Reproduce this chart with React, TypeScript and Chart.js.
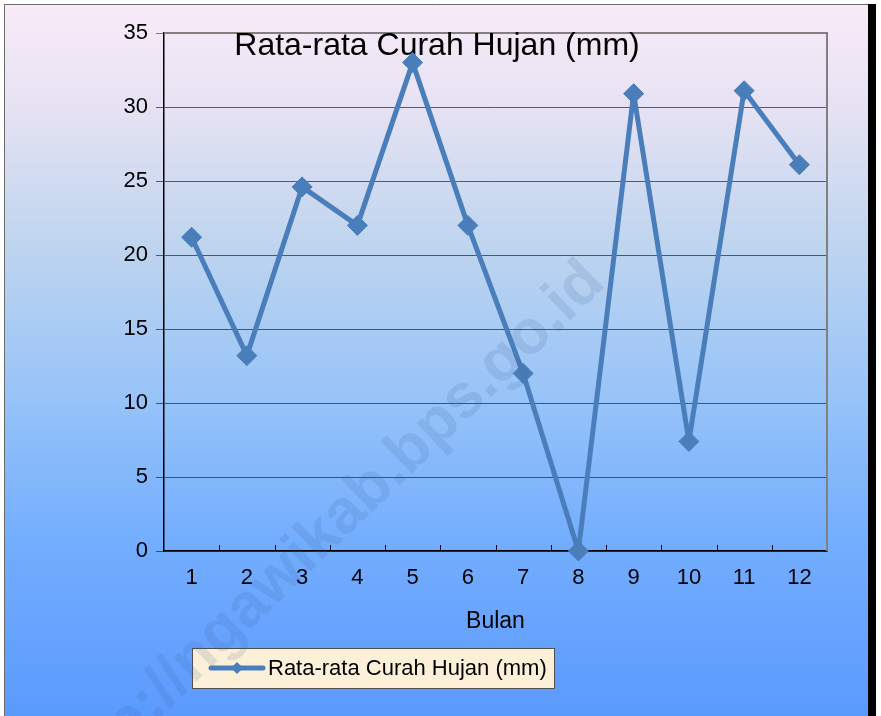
import React, { useEffect, useRef } from "react";
import { Chart, registerables } from "chart.js";

Chart.register(...registerables);

const months: string[] = ["1", "2", "3", "4", "5", "6", "7", "8", "9", "10", "11", "12"];
const rainfall: number[] = [21.2, 13.2, 24.6, 22.0, 33.0, 22.0, 12.0, 0, 30.9, 7.4, 31.1, 26.1];
const seriesLabel = "Rata-rata Curah Hujan (mm)";
const chartTitle = "Rata-rata Curah Hujan (mm)";
const xTitle = "Bulan";
const watermark = "http://ngawikab.bps.go.id";

const FONT = "'Liberation Sans', Arial, sans-serif";
const LINE_COLOR = "#4A7EBB";

const decorPlugin = {
  id: "decor",
  beforeDraw(chart: any) {
    const { ctx, width, height } = chart;
    ctx.save();
    ctx.fillStyle = "#ffffff";
    ctx.fillRect(0, 0, width, height);
    const g = ctx.createLinearGradient(0, 0, 0, height);
    g.addColorStop(0, "#FAEBF8");
    g.addColorStop(0.15, "#E6E2F3");
    g.addColorStop(0.35, "#BDD4EF");
    g.addColorStop(0.55, "#98C4F8");
    g.addColorStop(0.75, "#74AEFE");
    g.addColorStop(1, "#5B9AFE");
    ctx.fillStyle = g;
    ctx.fillRect(4, 4, 864, height - 4);
    // frame
    ctx.strokeStyle = "#6b6b6b";
    ctx.lineWidth = 1;
    ctx.beginPath();
    ctx.moveTo(4.5, height);
    ctx.lineTo(4.5, 4.5);
    ctx.lineTo(868, 4.5);
    ctx.stroke();
    ctx.fillStyle = "#000000";
    ctx.fillRect(868, 4, 8, height - 4);
    ctx.restore();
  },
  beforeDatasetsDraw(chart: any) {
    const { ctx, chartArea } = chart;
    const { left, right, top, bottom } = chartArea;
    ctx.save();
    // inner tick marks on x axis at category boundaries
    const n = chart.data.labels.length;
    const step = (right - left) / n;
    ctx.strokeStyle = "#000";
    ctx.lineWidth = 1;
    ctx.beginPath();
    for (let i = 1; i < n; i++) {
      const x = Math.round(left + i * step) + 0.5;
      ctx.moveTo(x, bottom);
      ctx.lineTo(x, bottom - 6);
    }
    ctx.stroke();
    // gray top/right border
    ctx.strokeStyle = "#808080";
    ctx.lineWidth = 2;
    ctx.beginPath();
    ctx.moveTo(left, top);
    ctx.lineTo(right, top);
    ctx.lineTo(right, bottom);
    ctx.stroke();
    // title
    ctx.fillStyle = "#000";
    ctx.font = `32px ${FONT}`;
    ctx.textAlign = "center";
    ctx.textBaseline = "middle";
    ctx.fillText(chartTitle, 437, 46);
    ctx.restore();
  },
  afterDraw(chart: any) {
    const { ctx } = chart;
    ctx.save();
    // legend box
    const bx = 192, by = 648, bw = 362, bh = 40;
    ctx.fillStyle = "#FDF0D8";
    ctx.fillRect(bx, by, bw, bh);
    ctx.strokeStyle = "#505050";
    ctx.lineWidth = 1;
    ctx.strokeRect(bx + 0.5, by + 0.5, bw, bh);
    const ds = chart.data.datasets[0];
    const cy = by + bh / 2;
    ctx.strokeStyle = ds.borderColor;
    ctx.lineWidth = 5;
    ctx.lineCap = "round";
    ctx.beginPath();
    ctx.moveTo(211, cy);
    ctx.lineTo(263, cy);
    ctx.stroke();
    ctx.fillStyle = ds.borderColor;
    ctx.beginPath();
    ctx.moveTo(237, cy - 6);
    ctx.lineTo(243, cy);
    ctx.lineTo(237, cy + 6);
    ctx.lineTo(231, cy);
    ctx.closePath();
    ctx.fill();
    ctx.fillStyle = "#000";
    ctx.font = `22px ${FONT}`;
    ctx.textAlign = "left";
    ctx.textBaseline = "middle";
    ctx.fillText(ds.label, 268, cy + 1);
    // watermark
    ctx.translate(607, 285);
    ctx.rotate(-44 * Math.PI / 180);
    ctx.font = `bold 62px ${FONT}`;
    ctx.textAlign = "right";
    ctx.textBaseline = "alphabetic";
    ctx.fillStyle = "rgba(60, 95, 150, 0.14)";
    ctx.fillText(watermark, 0, 0);
    ctx.restore();
  },
};

export default function App() {
  const canvasRef = useRef<HTMLCanvasElement | null>(null);

  useEffect(() => {
    if (!canvasRef.current) return;
    const chart = new Chart(canvasRef.current, {
      type: "line",
      data: {
        labels: months,
        datasets: [
          {
            label: seriesLabel,
            data: rainfall,
            borderColor: LINE_COLOR,
            backgroundColor: LINE_COLOR,
            borderWidth: 5,
            borderJoinStyle: "round",
            borderCapStyle: "round",
            pointStyle: "rectRot",
            pointRadius: 10,
            pointBackgroundColor: LINE_COLOR,
            pointBorderColor: LINE_COLOR,
            pointBorderWidth: 1,
            tension: 0,
            clip: false as any,
          },
        ],
      },
      options: {
        responsive: false,
        animation: false,
        layout: { padding: { left: 0, top: 33, right: 54, bottom: 81 } },
        plugins: {
          legend: { display: false },
          title: { display: false },
          tooltip: { enabled: false },
        },
        scales: {
          x: {
            type: "category",
            offset: true,
            grid: { offset: true, drawOnChartArea: false, drawTicks: false, color: "#000" },
            border: { color: "#000", width: 1.5 },
            ticks: { color: "#000", font: { size: 22, family: FONT }, padding: 14 },
            title: {
              display: true,
              text: xTitle,
              color: "#000",
              font: { size: 23, family: FONT },
              padding: { top: 0, bottom: 0 },
            },
            afterFit: (s: any) => {
              s.height = 84;
            },
          },
          y: {
            min: 0,
            max: 35,
            ticks: { stepSize: 5, color: "#000", font: { size: 22, family: FONT }, padding: 8 },
            grid: {
              color: (c: any) => (c.tick && c.tick.value === 35 ? "#808080" : "rgba(45,45,55,0.75)"),
              tickLength: 8,
              lineWidth: 1,
            },
            border: { color: "#000", width: 1.5 },
            afterFit: (s: any) => {
              s.width = 164;
            },
          },
        },
      },
      plugins: [decorPlugin],
    });
    return () => chart.destroy();
  }, []);

  return (
    <div style={{ position: "fixed", left: 0, top: 0, width: 881, height: 716 }}>
      <canvas ref={canvasRef} width={881} height={716} style={{ width: 881, height: 716 }} />
    </div>
  );
}
